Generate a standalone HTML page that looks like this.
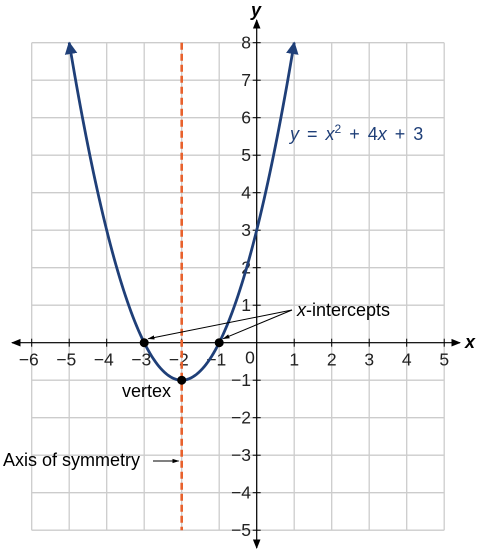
<!DOCTYPE html>
<html><head><meta charset="utf-8"><style>
body{margin:0;background:#fff}
svg{display:block;font-family:"Liberation Sans",Arial,sans-serif}
</style></head><body>
<svg id="c" width="487" height="555" viewBox="0 0 487 555">
<defs>
<marker id="ab" viewBox="0 0 10 10" refX="9" refY="5" markerWidth="8" markerHeight="8" orient="auto-start-reverse"><path d="M0,1 L10,5 L0,9 Z" fill="#000"/></marker>
<marker id="acs" viewBox="0 0 10 10" refX="9" refY="5" markerWidth="4.5" markerHeight="6" orient="auto-start-reverse"><path d="M0,0 L10,5 L0,10 Z" fill="#1f3f78"/></marker>
<marker id="as" viewBox="0 0 10 10" refX="9" refY="5" markerWidth="7" markerHeight="7" orient="auto"><path d="M0,2 L10,5 L0,8 Z" fill="#000"/></marker>
</defs>
<g id="grid"></g>
<g id="axes"></g>
<g id="plot"></g>
</svg>
<script>
const xTicks=[-6,-5,-4,-3,-2,-1,1,2,3,4,5];
const yTicks=[-5,-4,-3,-2,-1,1,2,3,4,5,6,7,8];
const coeffs=[1,4,3];
const curveDomain=[-5,1];
const intercepts=[[-3,0],[-1,0]];
const vertex=[-2,-1];
const axisX=-2;

const ox=256.7, oy=342.7, u=37.5;
const X=v=>ox+v*u, Y=v=>oy-v*u;
const NS="http://www.w3.org/2000/svg";
function mk(t,a,p,txt){const e=document.createElementNS(NS,t);for(const k in a)e.setAttribute(k,a[k]);if(txt!=null)e.textContent=txt;p.appendChild(e);return e;}
const g=document.getElementById('grid'),ax=document.getElementById('axes'),pl=document.getElementById('plot');
for(let i=-6;i<=5;i++){const l=mk('line',{x1:X(i),x2:X(i),y1:Y(8),y2:Y(-5),stroke:'#cccccc','stroke-width':1.3},g);

}
for(let j=-5;j<=8;j++){const l=mk('line',{x1:X(-6),x2:X(5),y1:Y(j),y2:Y(j),stroke:'#cccccc','stroke-width':1.3},g);

}
let l=mk('line',{x1:460,x2:12,y1:oy,y2:oy,stroke:'#000','stroke-width':1.2,'marker-start':'url(#ab)','marker-end':'url(#ab)'},ax);

l=mk('line',{x1:ox,x2:ox,y1:20,y2:548,stroke:'#000','stroke-width':1.2,'marker-start':'url(#ab)','marker-end':'url(#ab)'},ax);

let t=mk('text',{x:465,y:348,'font-size':18,'font-weight':'bold','font-style':'italic'},ax,'x');

t=mk('text',{x:251,y:16,'font-size':18,'font-weight':'bold','font-style':'italic'},ax,'y');

xTicks.forEach(v=>{mk('line',{x1:X(v),x2:X(v),y1:oy-4,y2:oy+4,stroke:'#000'},ax);
const s=mk('text',{x:X(v)-(v<0?3:0),y:oy+23,'font-size':17.5,'text-anchor':'middle',fill:'#222'},ax,v<0?'\u2212'+(-v):String(v));
});
t=mk('text',{x:250,y:oy+21,'font-size':17.5,'text-anchor':'middle',fill:'#222'},ax,'0');

yTicks.forEach(v=>{mk('line',{x1:ox-4,x2:ox+4,y1:Y(v),y2:Y(v),stroke:'#000'},ax);
const s=mk('text',{x:251,y:Y(v)+6,'font-size':17.5,'text-anchor':'end',fill:'#222'},ax,v<0?'\u2212'+(-v):String(v));
});
l=mk('line',{x1:X(axisX),x2:X(axisX),y1:Y(8),y2:Y(-5),stroke:'#e8612c','stroke-width':2.6,'stroke-dasharray':'7,4'},pl);

let d='';for(let i=0;i<=120;i++){const xv=curveDomain[0]+(curveDomain[1]-curveDomain[0])*i/120;const yv=coeffs[0]*xv*xv+coeffs[1]*xv+coeffs[2];d+=(i?'L':'M')+X(xv).toFixed(2)+','+Y(yv).toFixed(2);}
l=mk('path',{d:d,fill:'none',stroke:'#1f3f78','stroke-width':2.8,'marker-start':'url(#acs)','marker-end':'url(#acs)'},pl);

t=mk('text',{x:290,y:140,'font-size':18,fill:'#1f3f78','word-spacing':3},pl);
t.innerHTML='<tspan font-style="italic">y</tspan> = <tspan font-style="italic">x</tspan><tspan font-size="12" dy="-7">2</tspan><tspan dy="7"> + 4</tspan><tspan font-style="italic">x</tspan> + 3';

intercepts.concat([vertex]).forEach(p=>{const c=mk('circle',{cx:X(p[0]),cy:Y(p[1]),r:4.5,fill:'#000'},pl);
});
t=mk('text',{x:297,y:316,'font-size':18},pl);t.innerHTML='<tspan font-style="italic">x</tspan>-intercepts';

mk('line',{x1:292,y1:310,x2:X(-3)+4,y2:Y(0)-4,stroke:'#000','marker-end':'url(#as)'},pl);
mk('line',{x1:292,y1:310,x2:X(-1)+4,y2:Y(0)-4,stroke:'#000','marker-end':'url(#as)'},pl);
t=mk('text',{x:122,y:397,'font-size':18},pl,'vertex');

t=mk('text',{x:3,y:466,'font-size':18},pl,'Axis of symmetry');

mk('line',{x1:153,y1:461,x2:X(-2)-3,y2:461,stroke:'#000','marker-end':'url(#as)'},pl);
</script>
</body></html>
